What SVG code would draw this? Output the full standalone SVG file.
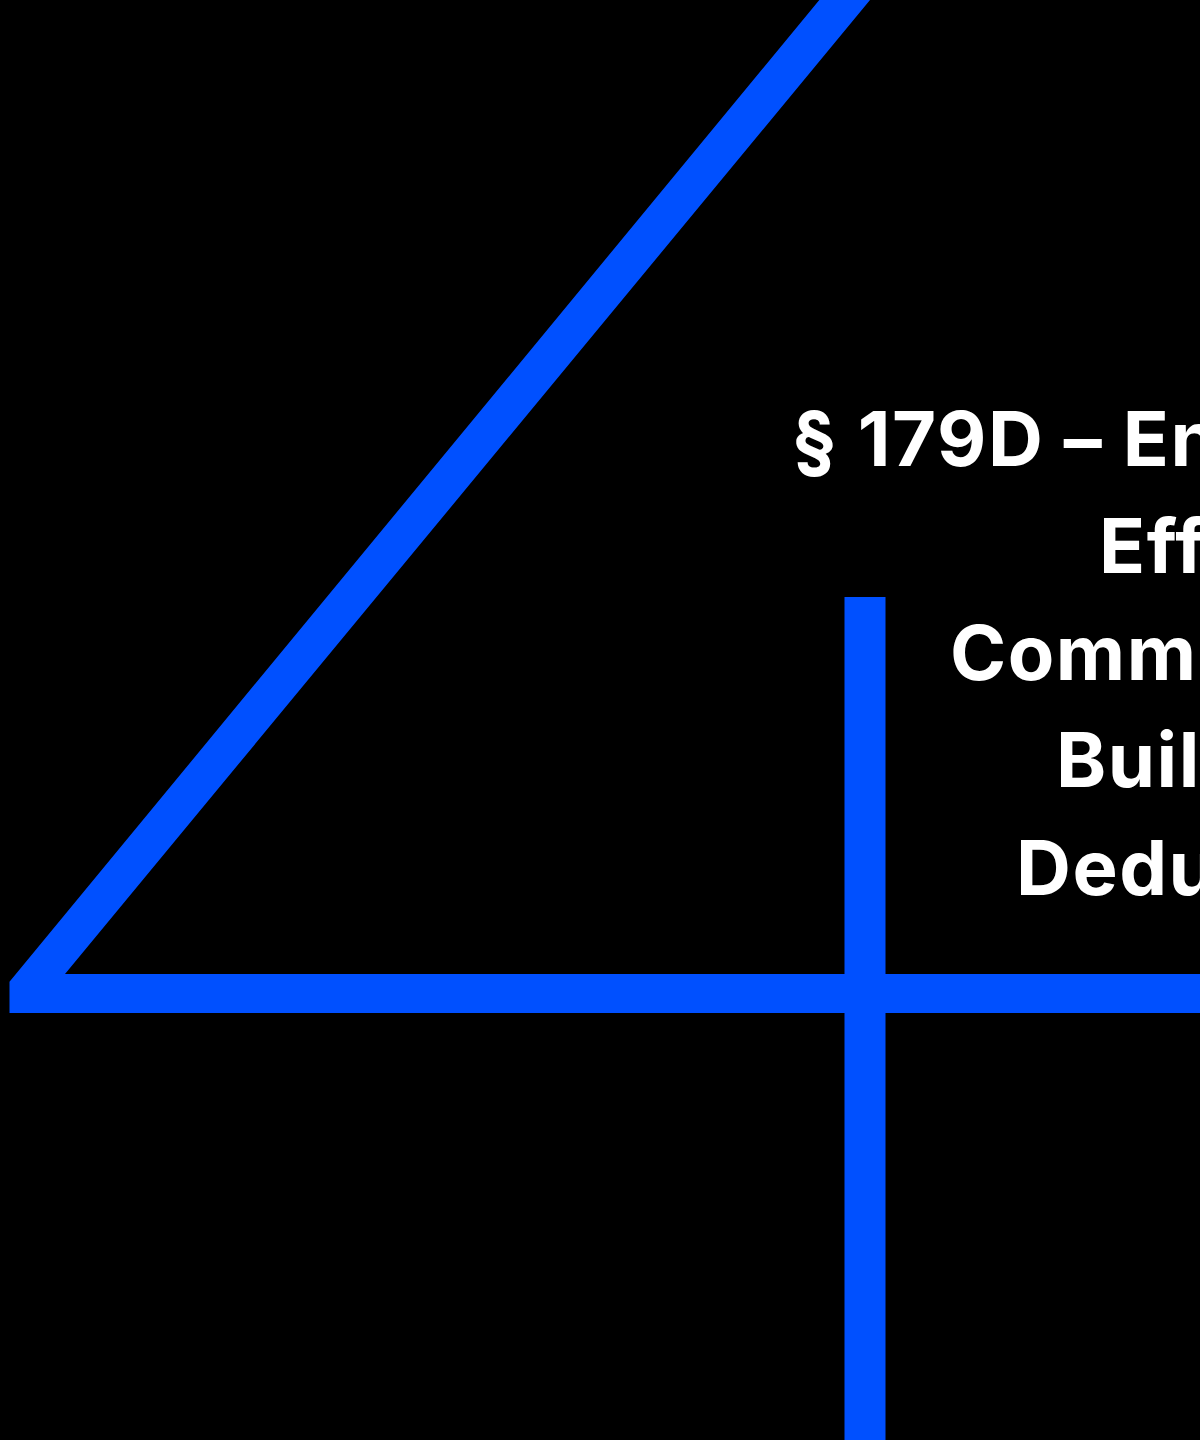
<svg xmlns="http://www.w3.org/2000/svg" width="1200" height="1440" viewBox="0 0 1200 1440">
  <style>
    .shape { fill: #0050FF; }
    .title { fill: #FFFFFF; font-family: Inter, "Open Sans", "DejaVu Sans", sans-serif; font-weight: 700; font-size: 76px; letter-spacing: 1.5px; }
  </style>
  <rect x="0" y="0" width="1200" height="1440" fill="#000000"/>
  <g id="figure-four">
    <polygon class="shape" points="819.3,0 870,0 65,974 1200,974 1200,1013 9.5,1013 9.5,981.7"/>
    <rect class="shape" x="844.5" y="597" width="41" height="843"/>
  </g>
  <g id="title">
    <text class="title" x="792" y="466">§ 179D – Energy</text>
    <text class="title" x="1099" y="573">Efficient</text>
    <text class="title" x="950" y="680">Commercial</text>
    <text class="title" x="1056" y="787">Buildings</text>
    <text class="title" x="1016" y="895">Deduction</text>
  </g>
</svg>
